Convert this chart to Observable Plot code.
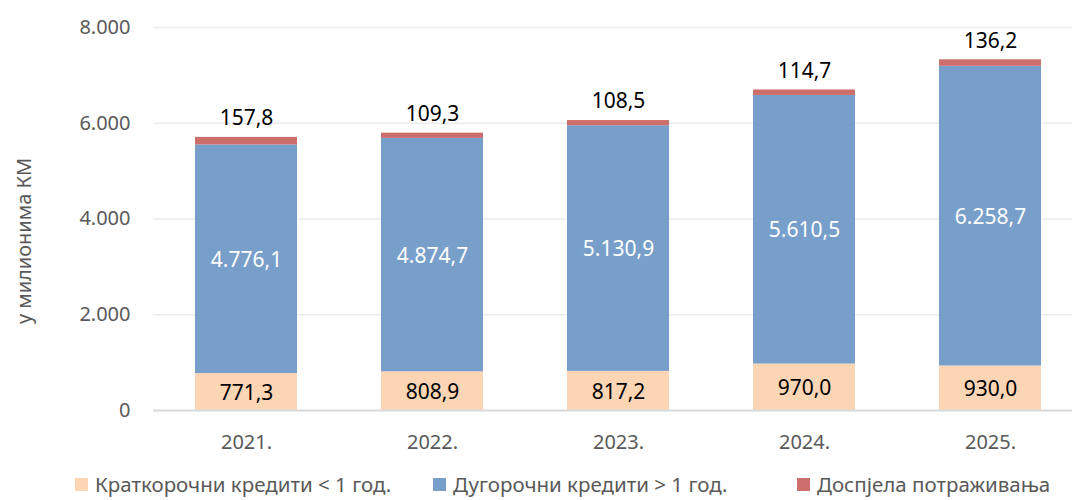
<!DOCTYPE html>
<html>
<head>
<meta charset="utf-8">
<script src="https://cdn.jsdelivr.net/npm/d3@7"></script>
<script src="https://cdn.jsdelivr.net/npm/@observablehq/plot@0.6"></script>
<style>
  html, body { margin: 0; padding: 0; background: #fff; }
  body { width: 1072px; height: 500px; overflow: hidden; font-family: "Noto Sans", sans-serif; }
  #legend { position: relative; height: 38px; font-size: 20.5px; color: #595959; }
  .item { position: absolute; top: 8px; display: flex; align-items: center; white-space: nowrap; }
  .sw { width: 13px; height: 13px; margin-right: 7px; }
</style>
</head>
<body>
<div id="chart"></div>
<div id="legend"></div>
<script>
const years = ["2021.", "2022.", "2023.", "2024.", "2025."];
const seriesNames = ["Краткорочни кредити < 1 год.", "Дугорочни кредити > 1 год.", "Доспјела потраживања"];
const shortTerm = [771.3, 808.9, 817.2, 970.0, 930.0];
const longTerm = [4776.1, 4874.7, 5130.9, 5610.5, 6258.7];
const due = [157.8, 109.3, 108.5, 114.7, 136.2];
const yTicks = [0, 2000, 4000, 6000, 8000];
const colors = ["#FCD5B5", "#789ECA", "#CC6E6B"];
const yLabel = "у милионима КМ";

const locale = d3.formatLocale({decimal: ",", thousands: ".", grouping: [3], currency: ["", ""]});
const f1 = locale.format(",.1f");
const f0 = locale.format(",.0f");

const seriesValues = [shortTerm, longTerm, due];
const data = [];
years.forEach((y, i) => {
  seriesNames.forEach((s, j) => data.push({year: y, series: s, value: seriesValues[j][i]}));
});

const chart = Plot.plot({
  width: 1072,
  height: 462,
  marginTop: 27,
  marginBottom: 52,
  marginLeft: 153,
  marginRight: 0,
  style: {fontFamily: "Noto Sans", fontSize: "20px", background: "#fff"},
  x: {domain: years, range: [153, 1083], paddingInner: 0.45, paddingOuter: 0.225, axis: null},
  y: {domain: [0, 8000], axis: null},
  color: {domain: seriesNames, range: colors},
  marks: [
    Plot.ruleY(yTicks.filter(d => d > 0), {stroke: "#EBEBEB", strokeWidth: 1.3}),
    Plot.barY(data, Plot.stackY({x: "year", y: "value", fill: "series", order: seriesNames})),
    Plot.ruleY([0], {stroke: "#D9D9D9", strokeWidth: 2}),
    Plot.axisY({ticks: yTicks, tickSize: 0, tickPadding: 23, tickFormat: f0, fill: "#595959", fontSize: 20, label: null}),
    Plot.axisX({tickSize: 0, tickPadding: 24, fill: "#595959", fontSize: 20, label: null}),
    Plot.text([yLabel], {frameAnchor: "left", textAnchor: "middle", dx: -129, dy: 22, rotate: -90, fill: "#595959", fontSize: 20}),
    Plot.text(data, Plot.stackY({x: "year", y: "value", z: "series", order: seriesNames,
      text: d => d.series === seriesNames[0] ? f1(d.value) : d.series === seriesNames[1] ? f1(d.value) : "",
      fill: d => d.series === seriesNames[1] ? "#fff" : "#000", fontSize: 21, dy: 1})),
    Plot.text(data, Plot.stackY2({x: "year", y: "value", z: "series", order: seriesNames,
      text: d => d.series === seriesNames[2] ? f1(d.value) : "",
      fill: "#000", dy: -19, fontSize: 21}))
  ]
});
document.getElementById("chart").appendChild(chart);

const legend = document.getElementById("legend");
const lx = [75, 433, 797];
seriesNames.forEach((s, i) => {
  const it = document.createElement("div");
  it.className = "item";
  it.style.left = lx[i] + "px";
  it.innerHTML = `<span class="sw" style="background:${colors[i]}"></span><span>${s}</span>`;
  legend.appendChild(it);
});
</script>
</body>
</html>
